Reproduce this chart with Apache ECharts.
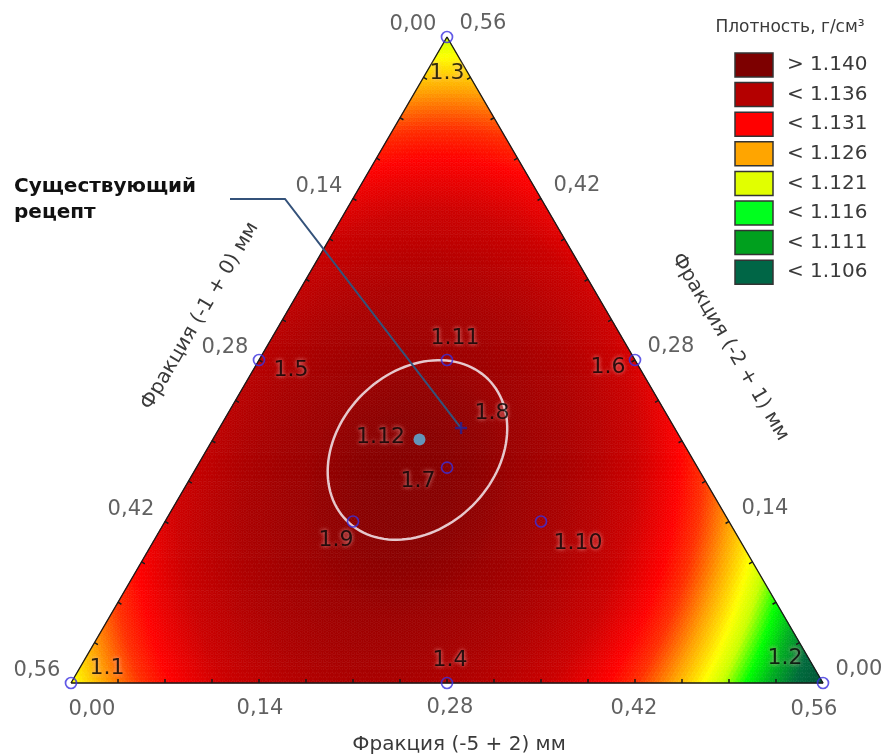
<!DOCTYPE html>
<html>
<head>
<meta charset="utf-8">
<script src="https://cdn.jsdelivr.net/npm/echarts@6/dist/echarts.min.js"></script>
<style>html,body{margin:0;padding:0;background:#fff}#main{width:886px;height:756px}</style>
</head>
<body>
<div id="main"></div>
<script>
// ================= DATA =================
const componentTotal = 0.56;
const axisTickValues = [0, 0.14, 0.28, 0.42, 0.56];
const axisTickLabels = ['0,00', '0,14', '0,28', '0,42', '0,56'];
const minorTickStep = 0.035;
const axisTitleA = 'Фракция (-5 + 2) мм';   // bottom axis, pure at right vertex
const axisTitleB = 'Фракция (-1 + 0) мм';   // left axis, pure at left vertex
const axisTitleC = 'Фракция (-2 + 1) мм';   // right axis, pure at top vertex

const designNames = ['1.1', '1.2', '1.3', '1.4', '1.5', '1.6', '1.7', '1.9', '1.10', '1.11'];
const designA = [0, 0.56, 0, 0.28, 0, 0.28, 0.1867, 0.14, 0.28, 0.14];
const designB = [0.56, 0, 0, 0.28, 0.28, 0, 0.1867, 0.28, 0.14, 0.14];
const designC = [0, 0, 0.56, 0, 0.28, 0.28, 0.1867, 0.14, 0.14, 0.28];

const recipeName = '1.8';
const recipeABC = [0.180, 0.159, 0.221];
const optimumName = '1.12';
const optimumABC = [0.154, 0.195, 0.211];
const ellipseCenterABC = [0.157, 0.201, 0.202];
const ellipseSemiAxes = [0.133, 0.104];
const ellipseAngleDeg = 45;

// fitted mixture (Scheffé quadratic) model of density, pseudo-components A, B, C
const modelPure = [1.1006, 1.119, 1.117];     // A, B, C
const modelPair = [0.120, 0.100, 0.080];      // AB, AC, BC

const legendTitle = 'Плотность, г/см³';
const legendLabels = ['> 1.140', '< 1.136', '< 1.131', '< 1.126', '< 1.121', '< 1.116', '< 1.111', '< 1.106'];
const legendColors = ['#7d0000', '#b40000', '#ff0000', '#ffa500', '#e1ff00', '#00ff1e', '#00a01e', '#006646'];
const annotationLines = ['Существующий', 'рецепт'];

// ================= STYLE / LAYOUT =================
const colorStops = [
  [1.098, '#004a36'], [1.1055, '#006a3c'], [1.110, '#00b020'], [1.1135, '#00ff00'],
  [1.117, '#c8ff00'], [1.1195, '#ffff00'], [1.1235, '#ffa000'], [1.1275, '#ff3000'],
  [1.1305, '#ff0000'], [1.135, '#cc0000'], [1.140, '#ad0000'], [1.1435, '#9c0000'],
  [1.1455, '#880000'], [1.148, '#7a0000']
];
const designLabelOffsets = [[36, -15], [-38, -25], [0, 36], [3, -23], [32, 10], [-27, 7], [-29, 14], [-17, 19], [37, 22], [8, -22]];
const recipeLabelOffset = [31, -15];
const optimumLabelOffset = [-39, -2];
const bottomTickOffsets = [[21, 27], [1, 26], [3, 25], [-1, 26], [-9, 27]];
const leftTickOffset = [-34, -12];
const rightTickOffset = [36, -13];
const FONT = '"DejaVu Sans", Verdana, sans-serif';

// ternary -> cartesian (hidden axes 0..1)
function toXY(A, B, C) { return [(A + C / 2) / componentTotal, C / componentTotal]; }

function hexToRgb(h) { return [parseInt(h.substr(1, 2), 16), parseInt(h.substr(3, 2), 16), parseInt(h.substr(5, 2), 16)]; }
function colorAt(v) {
  if (v <= colorStops[0][0]) return colorStops[0][1];
  for (let i = 1; i < colorStops.length; i++) {
    if (v <= colorStops[i][0]) {
      const t = (v - colorStops[i - 1][0]) / (colorStops[i][0] - colorStops[i - 1][0]);
      const a = hexToRgb(colorStops[i - 1][1]), b = hexToRgb(colorStops[i][1]);
      return 'rgb(' + a.map((x, k) => Math.round(x + (b[k] - x) * t)).join(',') + ')';
    }
  }
  return colorStops[colorStops.length - 1][1];
}
const vmMin = 1.098, vmMax = 1.148;
const vmColors = [];
for (let k = 0; k <= 200; k++) vmColors.push(colorAt(vmMin + (vmMax - vmMin) * k / 200));

function density(a, b, c) {
  return modelPure[0] * a + modelPure[1] * b + modelPure[2] * c +
    modelPair[0] * a * b + modelPair[1] * a * c + modelPair[2] * b * c;
}

// triangular mesh of the simplex
const N = 160;
const meshData = [];
function pushTri(p, q, r) {
  const ac = (p[0] + q[0] + r[0]) / 3 / N, cc = (p[1] + q[1] + r[1]) / 3 / N;
  const v = density(ac, 1 - ac - cc, cc);
  const pts = [p, q, r].map(t => [t[0] / N + t[1] / N / 2, t[1] / N]);
  meshData.push([ac + cc / 2, cc, v, pts[0][0], pts[0][1], pts[1][0], pts[1][1], pts[2][0], pts[2][1]]);
}
for (let i = 0; i < N; i++) {
  for (let j = 0; j < N - i; j++) {
    pushTri([j, i], [j + 1, i], [j, i + 1]);
    if (j < N - i - 1) pushTri([j + 1, i], [j + 1, i + 1], [j, i + 1]);
  }
}

const vBL = toXY(0, componentTotal, 0), vBR = toXY(componentTotal, 0, 0), vT = toXY(0, 0, componentTotal);

// minor ticks along edges
const tickData = [];
for (let k = 1; k < 16; k++) {
  const t = +(k * minorTickStep).toFixed(4);
  tickData.push(toXY(t, componentTotal - t, 0).concat([0]));       // bottom
  tickData.push(toXY(0, t, componentTotal - t).concat([1]));       // left
  tickData.push(toXY(componentTotal - t, 0, t).concat([2]));       // right
}

const labelStyle = {
  show: true, position: 'inside', color: '#000', fontFamily: FONT, fontSize: 22,
  textShadowColor: 'rgba(255,190,190,1)', textShadowBlur: 4
};

const designData = designNames.map((n, i) => ({
  name: n, value: toXY(designA[i], designB[i], designC[i]),
  label: { offset: designLabelOffsets[i] }
}));

function tickLabelSeries(dataXY, offsets) {
  return {
    type: 'scatter', symbolSize: 1, itemStyle: { color: 'rgba(0,0,0,0)' }, z: 7, silent: true, clip: false,
    label: { show: true, position: 'inside', color: '#3a3a3a', fontFamily: FONT, fontSize: 21, formatter: p => p.name },
    data: dataXY.map((xy, i) => ({ name: axisTickLabels[i], value: xy, label: { offset: offsets[i] } }))
  };
}

const option = {
  animation: false,
  backgroundColor: '#fff',
  grid: { left: 71, top: 37, width: 752, height: 646 },
  xAxis: { type: 'value', min: 0, max: 1, show: false },
  yAxis: { type: 'value', min: 0, max: 1, show: false },
  visualMap: { type: 'continuous', show: false, seriesIndex: 0, dimension: 2, min: vmMin, max: vmMax, inRange: { color: vmColors } },
  series: [
    {
      type: 'custom', data: meshData, clip: false, z: 1, silent: true, progressive: 0,
      encode: { x: 0, y: 1 },
      renderItem: function (params, api) {
        const pts = [[api.value(3), api.value(4)], [api.value(5), api.value(6)], [api.value(7), api.value(8)]].map(p => api.coord(p));
        const col = api.visual('color');
        return { type: 'polygon', shape: { points: pts }, style: { fill: col, stroke: col, lineWidth: 0.6 } };
      }
    },
    {
      type: 'line', z: 3, silent: true, symbol: 'none', clip: false,
      lineStyle: { color: '#1a1a1a', width: 1.4 },
      data: [vBL, vBR, vT, vBL]
    },
    {
      type: 'custom', z: 3, silent: true, clip: false, data: tickData, encode: { x: 0, y: 1 },
      renderItem: function (params, api) {
        const p = api.coord([api.value(0), api.value(1)]);
        const cen = api.coord([0.5, 1 / 3]);
        const e = api.value(2);
        const a = api.coord(e === 2 ? vBR : vBL);
        const b = api.coord(e === 0 ? vBR : vT);
        let dx = b[0] - a[0], dy = b[1] - a[1]; const L = Math.hypot(dx, dy); dx /= L; dy /= L;
        let vx = cen[0] - p[0], vy = cen[1] - p[1]; const d = vx * dx + vy * dy; vx -= d * dx; vy -= d * dy;
        const M = Math.hypot(vx, vy); vx /= M; vy /= M;
        return { type: 'line', shape: { x1: p[0], y1: p[1], x2: p[0] + vx * 4, y2: p[1] + vy * 4 }, style: { stroke: '#1a1a1a', lineWidth: 1.5 } };
      }
    },
    {
      type: 'custom', z: 4, silent: true, clip: false, data: [toXY.apply(null, ellipseCenterABC)], encode: { x: 0, y: 1 },
      renderItem: function (params, api) {
        const c = api.coord([api.value(0), api.value(1)]);
        const sx = api.size([1, 0])[0];
        const rx = ellipseSemiAxes[0] * sx, ry = ellipseSemiAxes[1] * sx;
        const th = -ellipseAngleDeg * Math.PI / 180;
        const pts = [];
        for (let k = 0; k < 120; k++) {
          const t = 2 * Math.PI * k / 120, lx = rx * Math.cos(t), ly = ry * Math.sin(t);
          pts.push([c[0] + lx * Math.cos(th) - ly * Math.sin(th), c[1] + lx * Math.sin(th) + ly * Math.cos(th)]);
        }
        return { type: 'polygon', shape: { points: pts }, style: { fill: 'none', stroke: '#e6c8cd', lineWidth: 2.5 } };
      }
    },
    {
      type: 'custom', z: 5, silent: true, clip: false, data: [toXY.apply(null, recipeABC)], encode: { x: 0, y: 1 },
      renderItem: function (params, api) {
        const p = api.coord([api.value(0), api.value(1)]);
        return { type: 'polyline', shape: { points: [[230, 199], [285, 199], p] }, style: { fill: 'none', stroke: '#34527a', lineWidth: 2 } };
      }
    },
    {
      type: 'scatter', z: 6, clip: false, symbol: 'circle', symbolSize: 11,
      itemStyle: { color: 'rgba(0,0,0,0)', borderColor: '#3a30e0', borderWidth: 1.7 },
      label: Object.assign({}, labelStyle, { formatter: p => p.name }),
      data: designData
    },
    {
      type: 'scatter', z: 6, clip: false,
      symbol: 'path://M4,0H6V4H10V6H6V10H4V6H0V4H4Z', symbolSize: 12,
      itemStyle: { color: '#22229a' },
      label: Object.assign({}, labelStyle, { formatter: p => p.name }),
      data: [{ name: recipeName, value: toXY.apply(null, recipeABC), label: { offset: recipeLabelOffset } }]
    },
    {
      type: 'scatter', z: 6, clip: false, symbol: 'circle', symbolSize: 12,
      itemStyle: { color: '#5ab9e6' },
      label: Object.assign({}, labelStyle, { formatter: p => p.name }),
      data: [{ name: optimumName, value: toXY.apply(null, optimumABC), label: { offset: optimumLabelOffset } }]
    },
    tickLabelSeries(axisTickValues.map(t => toXY(t, componentTotal - t, 0)), bottomTickOffsets),
    tickLabelSeries(axisTickValues.map(t => toXY(0, t, componentTotal - t)), axisTickValues.map(() => leftTickOffset)),
    tickLabelSeries(axisTickValues.map(t => toXY(componentTotal - t, 0, t)), axisTickValues.map(() => rightTickOffset))
  ],
  graphic: []
};

// axis titles
const edgeAngle = Math.atan2(646, 378);
option.graphic.push(
  { type: 'text', x: 459, y: 745, style: { text: axisTitleA, font: '20px ' + FONT, fill: '#3a3a3a', align: 'center', verticalAlign: 'middle' } },
  { type: 'text', x: 200, y: 316, rotation: edgeAngle, style: { text: axisTitleB, font: '20px ' + FONT, fill: '#3a3a3a', align: 'center', verticalAlign: 'middle' } },
  { type: 'text', x: 730, y: 347, rotation: -edgeAngle, style: { text: axisTitleC, font: '20px ' + FONT, fill: '#3a3a3a', align: 'center', verticalAlign: 'middle' } }
);
// annotation
annotationLines.forEach((t, i) => option.graphic.push(
  { type: 'text', x: 14, y: 187 + i * 26, style: { text: t, font: 'bold 20px ' + FONT, fill: '#111', align: 'left', verticalAlign: 'middle' } }
));
// legend
option.graphic.push({ type: 'text', x: 790, y: 28, style: { text: legendTitle, font: '17px ' + FONT, fill: '#3a3a3a', align: 'center', verticalAlign: 'middle' } });
legendLabels.forEach((t, i) => {
  const cy = 65 + i * 29.6;
  option.graphic.push(
    { type: 'rect', shape: { x: 735, y: cy - 12, width: 38, height: 24 }, style: { fill: legendColors[i], stroke: '#333', lineWidth: 1.5 } },
    { type: 'text', x: 787, y: cy, style: { text: t, font: '20px ' + FONT, fill: '#3a3a3a', align: 'left', verticalAlign: 'middle' } }
  );
});

const chart = echarts.init(document.getElementById('main'), null, { renderer: 'canvas' });
chart.setOption(option);
</script>
</body>
</html>
